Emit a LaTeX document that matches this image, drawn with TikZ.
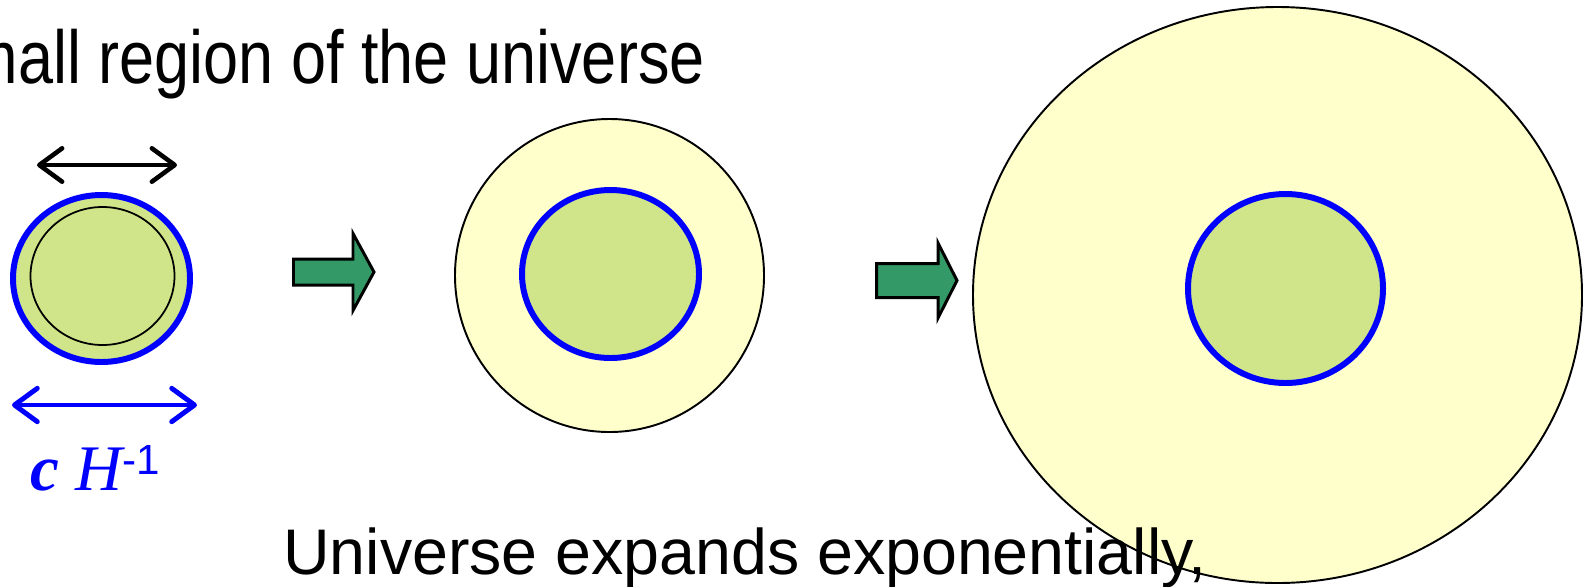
\documentclass[tikz,border=0pt]{standalone}
\usepackage{fontspec}
\setmainfont{Liberation Sans}
\newfontfamily\timesfont{Liberation Serif}
\usepackage{tikz}
\usetikzlibrary{arrows.meta,calc}
\definecolor{paleyellow}{RGB}{255,255,204}
\definecolor{limegreen}{RGB}{208,229,138}
\definecolor{seagreen}{RGB}{51,153,102}
\definecolor{pureblue}{RGB}{0,0,255}

\tikzset{
  region/.style={draw=pureblue, line width=3.4pt, fill=limegreen},
  horizon/.style={draw=black, line width=1.1pt, fill=paleyellow},
  growarrow/.style={draw=black, line width=1.7pt, fill=seagreen, line join=miter},
  span/.style={line width=2.6pt, line cap=round,
    {Straight Barb[length=13pt,width=19pt,round]}-{Straight Barb[length=13pt,width=19pt,round]}}
}

\begin{document}
\begin{tikzpicture}[x=0.02cm, y=-0.02cm]
  \useasboundingbox (0,0) rectangle (1588,586);
  % title, cut at the left edge
  \node[anchor=base east, inner sep=0, xscale=0.84] (title) at (705,83)
    {\fontsize{42.7pt}{48pt}\selectfont mall region of the universe};
  % first stage
  \draw[region] (101.5,278.5) ellipse (88.5 and 83.5);
  \draw[line width=1pt] (102.5,276) ellipse (72 and 69);
  \coordinate (topl) at (37,165);
  \coordinate (topr) at (177,165);
  \draw[span] (topl) -- (topr);
  \coordinate (hubl) at (12,405);
  \coordinate (hubr) at (197,405);
  \draw[span, pureblue, line width=2.8pt] (hubl) -- (hubr);
  \node[anchor=base west, inner sep=0, text=pureblue] (hubble) at (30,490)
    {\timesfont\itshape\fontsize{37pt}{40pt}\selectfont{\bfseries c} H\raisebox{9pt}{\upshape\rmfamily\fontsize{24pt}{26pt}\selectfont -1}};
  % second and third stage
  \draw[horizon] (609.5,275.5) ellipse (154.5 and 156.5);
  \draw[region] (610.5,274) ellipse (88.5 and 84);
  \draw[horizon] (1277.5,295) ellipse (304.5 and 288);
  \draw[region] (1285.5,288.5) ellipse (97.5 and 94.5);
  % growth arrows
  \foreach \xa/\xb/\xc/\yc/\bh/\hh in {293.5/353/374/272/13/38.5, 876.5/938/957/280.5/17/37.5}
    \draw[growarrow] (\xa,\yc-\bh) -- (\xb,\yc-\bh) -- (\xb,\yc-\hh) -- (\xc,\yc)
      -- (\xb,\yc+\hh) -- (\xb,\yc+\bh) -- (\xa,\yc+\bh) -- cycle;
  \node[anchor=base west, inner sep=0] (caption) at (283,574)
    {\fontsize{36.7pt}{42pt}\selectfont Universe expands exponentially,};
\end{tikzpicture}
\end{document}
